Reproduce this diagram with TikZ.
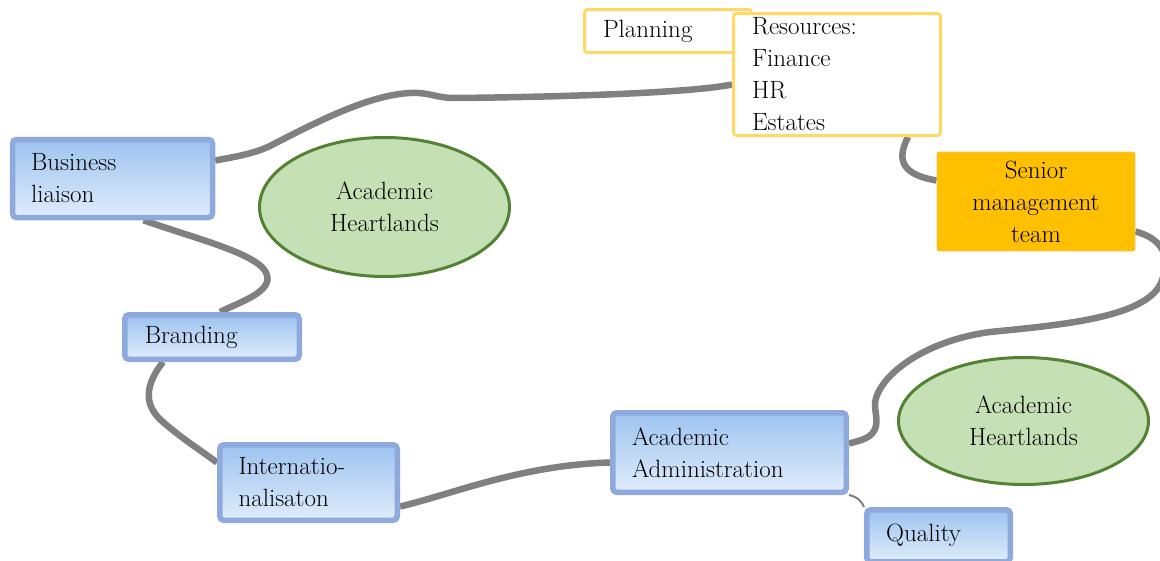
\documentclass[tikz,border=0pt]{standalone}
\usepackage{fontspec}
\usetikzlibrary{calc,shapes.geometric,backgrounds}
\definecolor{bborder}{RGB}{142,169,219}
\definecolor{btop}{RGB}{157,195,240}
\definecolor{bbot}{RGB}{224,236,250}
\definecolor{yborder}{RGB}{255,217,102}
\definecolor{sfill}{RGB}{255,192,0}
\definecolor{sborder}{RGB}{236,200,110}
\definecolor{efill}{RGB}{197,224,180}
\definecolor{eborder}{RGB}{84,130,53}
\definecolor{conn}{RGB}{128,128,128}
\tikzset{
  txt/.style={font=\rmfamily\fontsize{25}{32}\selectfont},
  bluebox/.style={txt,rectangle,rounded corners=4pt,draw=bborder,line width=5.5pt,
    top color=btop,bottom color=bbot,align=left,inner ysep=0pt},
  yelbox/.style={txt,rectangle,rounded corners=3pt,draw=yborder,line width=3pt,
    fill=white,align=left,inner ysep=0pt},
  smtbox/.style={txt,rectangle,rounded corners=2pt,draw=sborder,line width=0.8pt,
    fill=sfill,align=center,inner sep=0pt},
  heart/.style={txt,ellipse,draw=eborder,line width=3pt,fill=efill,align=center,inner sep=0pt},
  link/.style={draw=conn,line width=6.5pt},
  thinlink/.style={draw=conn,line width=2pt}
}
\begin{document}
\begin{tikzpicture}[x=1pt,y=-1pt]
\useasboundingbox (0,0) rectangle (1160,560);
% nodes
\node[bluebox,minimum width=200pt,minimum height=78pt,text width=163pt,inner xsep=18.5pt] (bl) at (112.5,178.5) {Business\\liaison};
\node[bluebox,minimum width=174.5pt,minimum height=44.5pt,text width=134.5pt,inner xsep=20pt] (br) at (212,337) {Branding};
\node[bluebox,minimum width=177.5pt,minimum height=75.5pt,text width=140pt,inner xsep=18.75pt] (int) at (308.5,482.5) {Internatio-\\nalisaton};
\node[bluebox,minimum width=233.5pt,minimum height=79.5pt,text width=195pt,inner xsep=19.25pt] (aa) at (729.5,452.5) {Academic\\Administration};
\node[bluebox,minimum width=143.5pt,minimum height=52pt,text width=105pt,inner xsep=19.25pt] (q) at (938.5,535.75) {Quality};
\node[yelbox,minimum width=167pt,minimum height=43pt,text width=130pt,inner xsep=18.5pt] (pl) at (668,31) {Planning};
\node[yelbox,minimum width=207pt,minimum height=122pt,text width=170pt,inner xsep=18.5pt] (res) at (837,74.5) {Resources:\\Finance\\HR\\Estates};
\node[smtbox,minimum width=198pt,minimum height=99pt] (smt) at (1036,201.5) {Senior\\management\\team};
\node[heart,minimum width=250pt,minimum height=139pt] (h1) at (384.5,207) {Academic\\Heartlands};
\node[heart,minimum width=250pt,minimum height=127pt] (h2) at (1023.5,421) {Academic\\Heartlands};
% connectors
\begin{pgfonlayer}{background}
\draw[link] ($(bl.east)+(0,-18)$) .. controls (240,156) and (255,153) .. (270,146)
  .. controls (320,120) and (370,95) .. (410,93)
  .. controls (430,92) and (435,98) .. (455,98)
  .. controls (560,97) and (690,93) .. ($(res.west)+(0,10)$);
\draw[link] ($(res.south)+(71,0)$) .. controls (898,157) and (898,174) .. ($(smt.west)+(0,-21)$);
\draw[link] ($(smt.east)+(0,30)$) .. controls (1160,238) and (1174,255) .. (1160,285)
  .. controls (1142,318) and (1060,325) .. (990,332)
  .. controls (930,340) and (885,370) .. (876,398)
  .. controls (873,408) and (878,416) .. (876,426)
  .. controls (873,438) and (862,440) .. ($(aa.east)+(0,-9)$);
\draw[link] ($(bl.south)+(31,0)$) .. controls (200,240) and (262,255) .. (267,275)
  .. controls (272,292) and (240,302) .. ($(br.north)+(8,0)$);
\draw[link] ($(br.south)+(-49,0)$) .. controls (145,385) and (143,405) .. (163,422)
  .. controls (180,437) and (200,450) .. ($(int.west)+(0,-20)$);
\draw[link] ($(int.east)+(0,24)$) .. controls (450,495) and (520,465) .. ($(aa.west)+(0,10)$);
\draw[thinlink] (aa.south east) .. controls (858,497) and (862,502) .. (q.north west);
\end{pgfonlayer}
\end{tikzpicture}
\end{document}
